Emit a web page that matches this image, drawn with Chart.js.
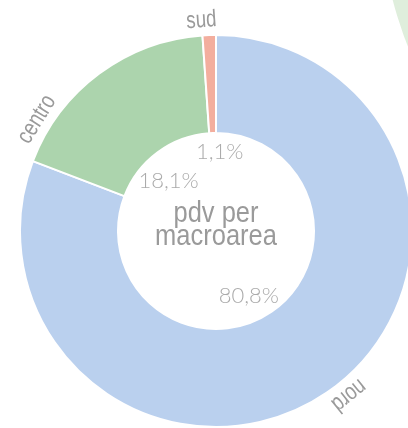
<!DOCTYPE html>
<html>
<head>
<meta charset="utf-8">
<script src="https://cdn.jsdelivr.net/npm/chart.js@4.4.0/dist/chart.umd.min.js"></script>
<style>
  html, body { margin: 0; padding: 0; background: #fff; overflow: hidden; }
  #wrap { position: relative; width: 420px; height: 428px; }
</style>
</head>
<body>
<div id="wrap"><canvas id="chart" width="420" height="428"></canvas></div>
<script>
const areas = ['nord', 'centro', 'sud'];
const shares = [80.8, 18.1, 1.1];
const shareLabels = ['80,8%', '18,1%', '1,1%'];
const colors = ['#bad0ee', '#acd4ad', '#f3ae9e'];
const centerLines = ['pdv per', 'macroarea'];

// draw text squeezed horizontally to mimic a condensed face
function narrowText(c, txt, x, y, squeeze) {
    c.save();
    c.translate(x, y);
    c.scale(squeeze, 1);
    c.fillText(txt, 0, 0);
    c.restore();
}

// pale green circle peeking in at the top right
const backdrop = {
    id: 'backdrop',
    beforeDraw(chart) {
        const c = chart.ctx;
        c.save();
        c.fillStyle = '#dfeedc';
        c.beginPath();
        c.arc(780, -100, 400, 0, Math.PI * 2);
        c.fill();
        c.restore();
    }
};

const ringText = {
    id: 'ringText',
    afterDraw(chart, args, opts) {
        const c = chart.ctx;
        const arcs = chart.getDatasetMeta(0).data;
        c.save();
        arcs.forEach((arc, i) => {
            const p = arc.getProps(['x', 'y', 'startAngle', 'endAngle', 'innerRadius', 'outerRadius'], true);
            // name outside the ring, turned along the circle
            const a = p.startAngle + (p.endAngle - p.startAngle) * opts.nameAt[i];
            const r = p.outerRadius + 15;
            c.save();
            c.translate(p.x + Math.cos(a) * r, p.y + Math.sin(a) * r);
            c.rotate(a + Math.PI / 2);
            c.font = '24px "Liberation Sans", Arial, sans-serif';
            c.fillStyle = '#9a9a9a';
            c.textAlign = 'center';
            c.textBaseline = 'middle';
            narrowText(c, areas[i], 0, 0, 0.78);
            c.restore();

            // percentage inside the hole
            const m = (p.startAngle + p.endAngle) / 2 + opts.pctShift[i];
            const pr = p.innerRadius * opts.pctRadius[i];
            c.font = '300 22px Lato, "Open Sans", sans-serif';
            c.fillStyle = '#ababab';
            c.textAlign = 'center';
            c.textBaseline = 'middle';
            c.fillText(shareLabels[i], p.x + Math.cos(m) * pr, p.y + Math.sin(m) * pr + 2);
        });
        const p0 = arcs[0];
        c.font = '30px "Liberation Sans", Arial, sans-serif';
        c.fillStyle = '#9a9a9a';
        c.textAlign = 'center';
        c.textBaseline = 'alphabetic';
        narrowText(c, centerLines[0], p0.x, p0.y - 9, 0.85);
        narrowText(c, centerLines[1], p0.x, p0.y + 14, 0.85);
        c.restore();
    }
};

new Chart(document.getElementById('chart'), {
    type: 'doughnut',
    data: {
        labels: areas,
        datasets: [{
            data: shares,
            backgroundColor: colors,
            borderColor: '#ffffff',
            borderWidth: 2
        }]
    },
    options: {
        responsive: false,
        animation: false,
        cutout: '50%',
        layout: { padding: { left: 19, right: 7, top: 34, bottom: 0 } },
        plugins: {
            legend: { display: false },
            tooltip: { enabled: false },
            ringText: {
                nameAt: [0.485, 0.17, 0.0],
                pctShift: [0.12, -0.1, 0.08],
                pctRadius: [0.72, 0.72, 0.83]
            }
        }
    },
    plugins: [backdrop, ringText]
});
</script>
</body>
</html>
